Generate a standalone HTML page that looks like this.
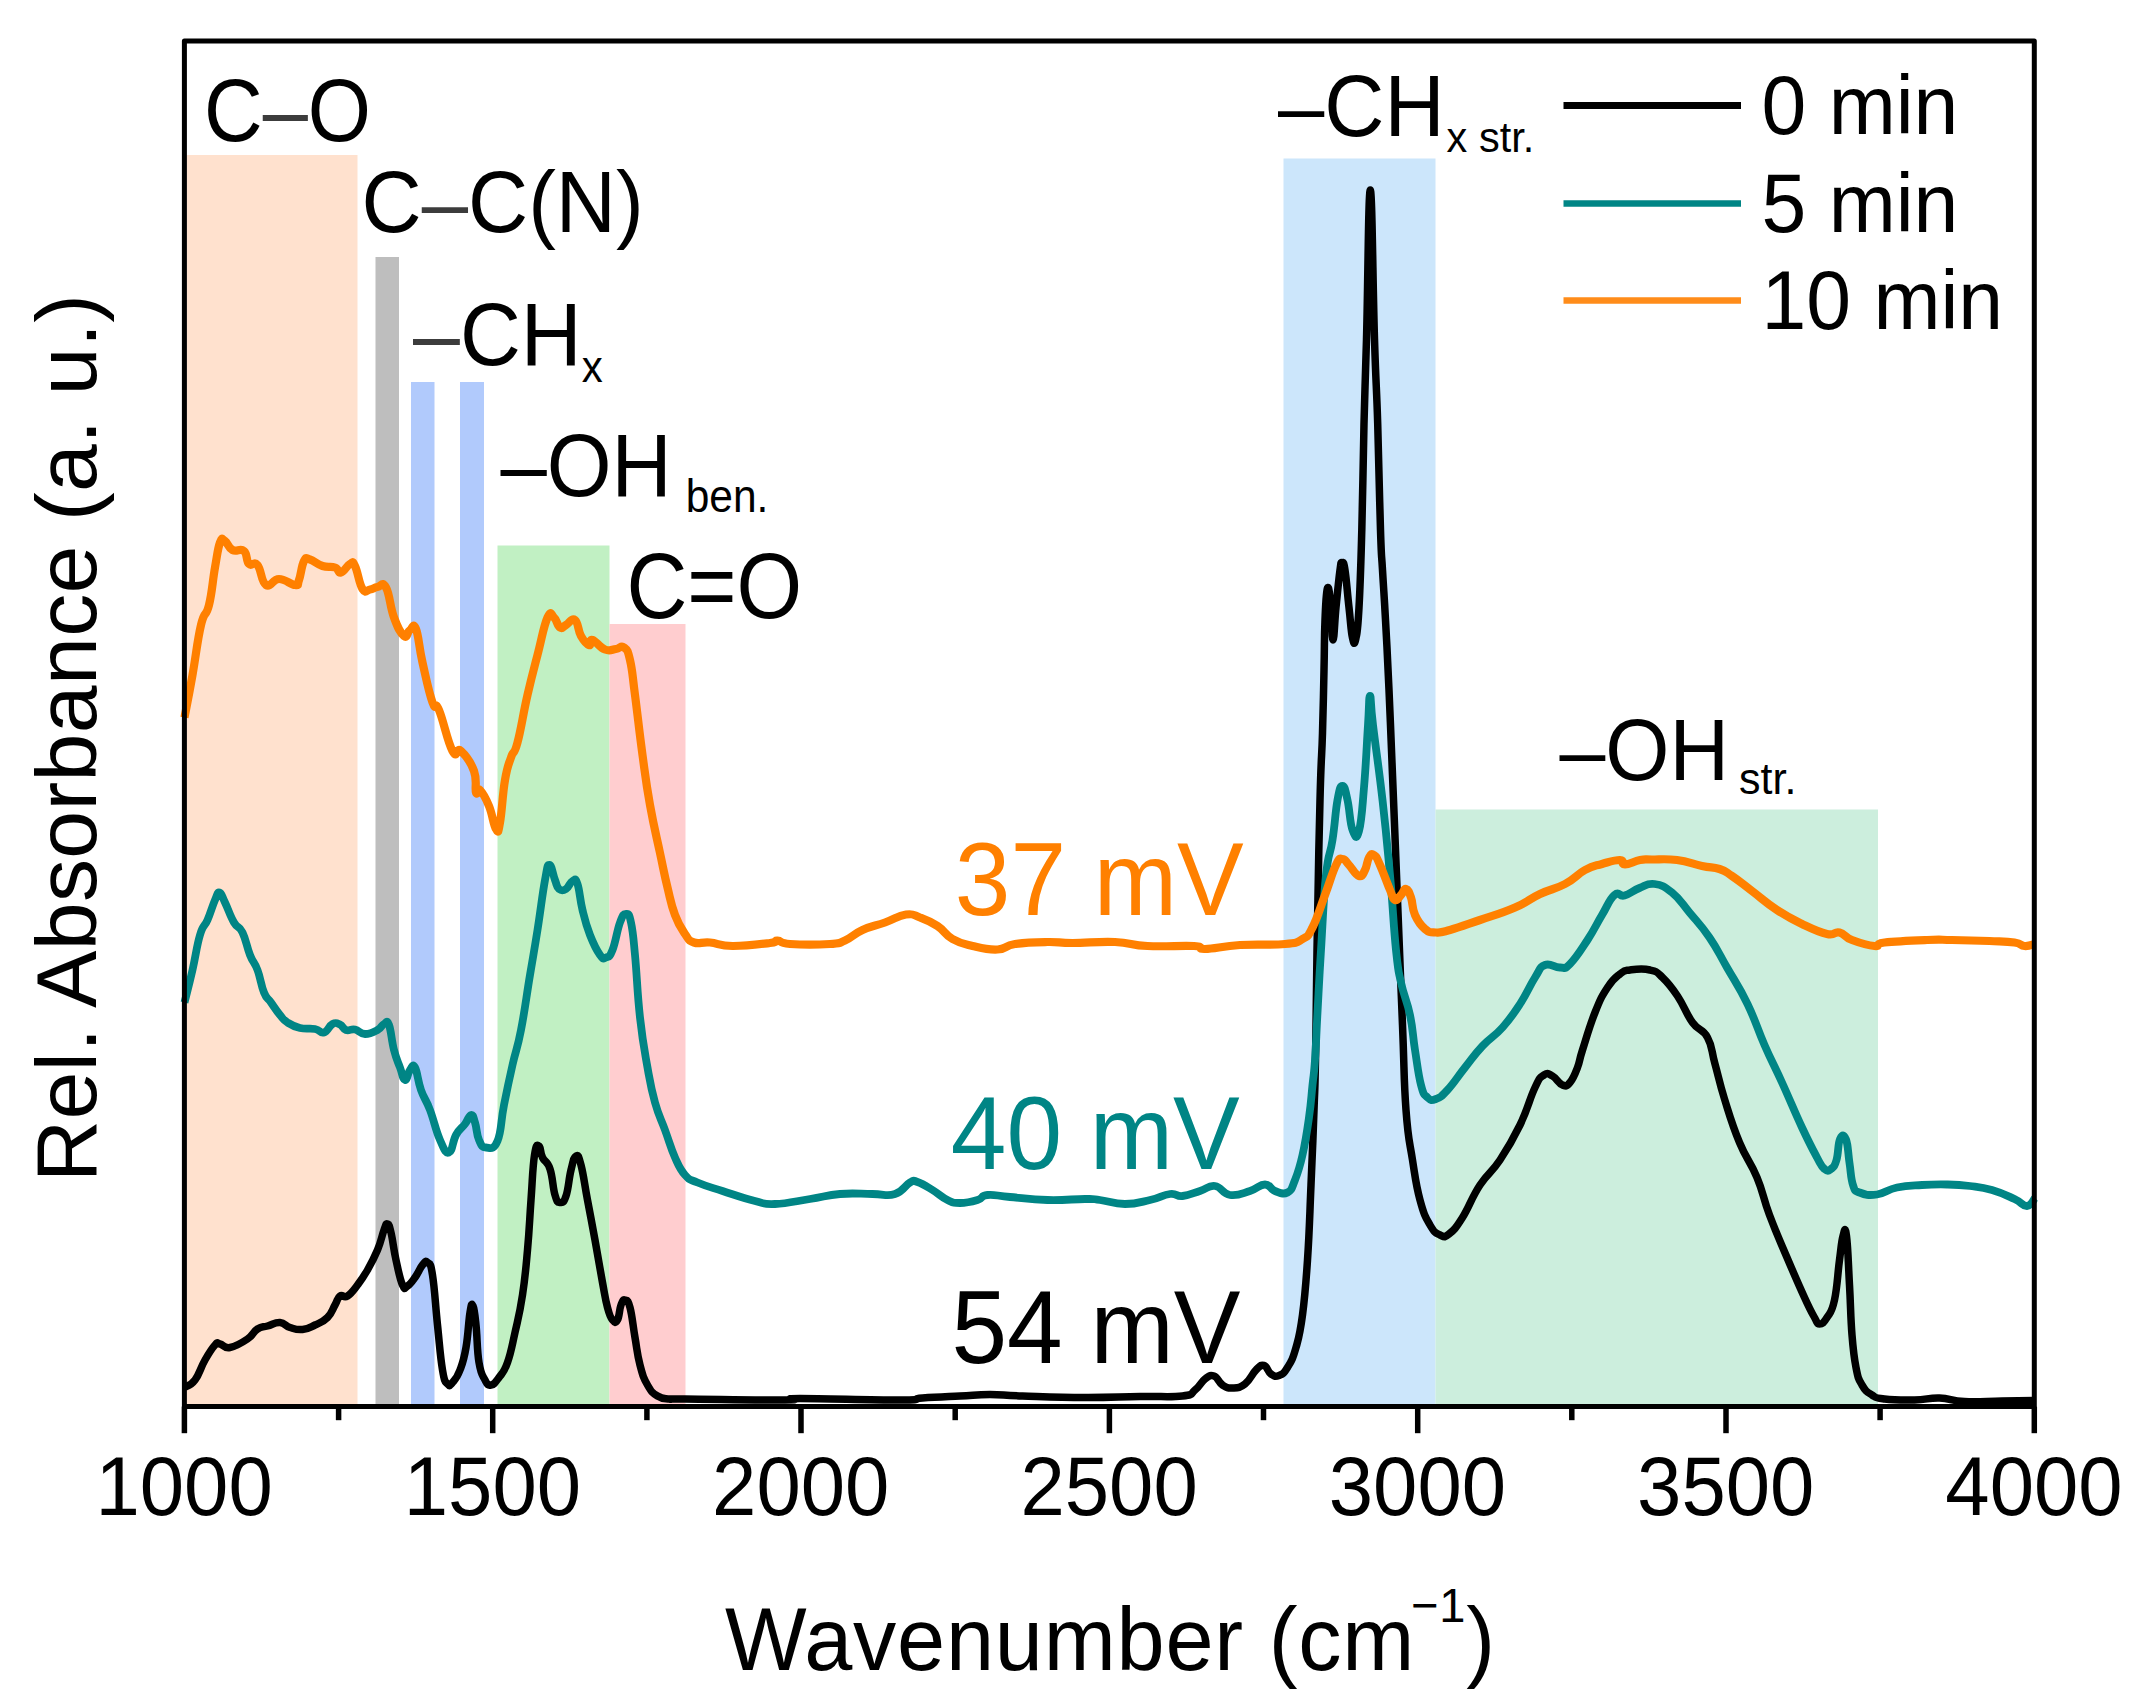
<!DOCTYPE html>
<html lang="en">
<head>
<meta charset="utf-8">
<title>Rel. Absorbance vs Wavenumber</title>
<style>
html,body{margin:0;padding:0;background:#fff;}
body{width:2136px;height:1704px;overflow:hidden;}
svg{display:block;}
text{font-family:"Liberation Sans", sans-serif;fill:#000;}
</style>
</head>
<body>
<svg width="2136" height="1704" viewBox="0 0 2136 1704">
<rect x="0" y="0" width="2136" height="1704" fill="#ffffff"/>

<g id="bands">
<rect x="187" y="155" width="170.5" height="1251.6" fill="#FFE1CE"/>
<rect x="375.5" y="257" width="23.5" height="1149.6" fill="#BEBEBE"/>
<rect x="411" y="382" width="23.5" height="1024.6" fill="#B1CAFC"/>
<rect x="460" y="382" width="24.0" height="1024.6" fill="#B1CAFC"/>
<rect x="497.5" y="545.5" width="112.0" height="861.1" fill="#C1F0C3"/>
<rect x="609.5" y="624" width="76.0" height="782.6" fill="#FFCDCF"/>
<rect x="1283.5" y="158.5" width="152.0" height="1248.1" fill="#CCE6FB"/>
<rect x="1435.5" y="809.5" width="442.5" height="597.1" fill="#CCEEDD"/>
</g>
<g id="curves" fill="none" stroke-linejoin="round" stroke-linecap="butt">
<path stroke="#000000" stroke-width="7.5" d="M184.5,1387.5C186.9,1385.8 190.2,1386.4 195.0,1380.0C199.8,1373.6 200.3,1368.2 205.0,1360.0C209.7,1351.8 211.5,1348.7 215.0,1345.0C218.5,1341.3 216.5,1343.4 220.0,1344.0C223.5,1344.6 223.6,1348.7 230.0,1347.5C236.4,1346.3 241.1,1343.3 247.5,1339.0C253.9,1334.7 252.8,1332.0 257.5,1329.0C262.2,1326.0 262.2,1327.5 267.5,1326.0C272.8,1324.5 274.8,1322.2 280.0,1322.5C285.2,1322.8 284.8,1325.9 290.0,1327.5C295.2,1329.1 296.7,1330.1 302.5,1329.5C308.3,1328.9 309.2,1327.8 315.0,1325.0C320.8,1322.2 322.8,1322.2 327.5,1317.5C332.2,1312.8 332.1,1310.0 335.0,1305.0C337.9,1300.0 337.1,1298.1 340.0,1296.0C342.9,1293.9 343.4,1298.6 347.5,1296.0C351.6,1293.4 352.8,1291.1 357.5,1285.0C362.2,1278.9 362.8,1278.2 367.5,1270.0C372.2,1261.8 373.6,1259.3 377.5,1250.0C381.4,1240.7 381.7,1236.1 384.0,1230.0C386.3,1223.9 385.9,1223.4 387.5,1224.0C389.1,1224.6 389.0,1224.1 391.0,1232.5C393.0,1240.9 393.3,1247.8 396.0,1260.0C398.7,1272.2 399.8,1278.9 402.5,1285.0C405.2,1291.1 404.6,1287.8 407.5,1286.0C410.4,1284.2 411.5,1282.4 415.0,1277.5C418.5,1272.6 419.6,1268.5 422.5,1265.0C425.4,1261.5 425.2,1260.2 427.5,1262.5C429.8,1264.8 430.2,1260.4 432.5,1275.0C434.8,1289.6 435.2,1302.8 437.5,1325.0C439.8,1347.2 440.2,1356.2 442.5,1370.0C444.8,1383.8 445.2,1381.1 447.5,1384.0C449.8,1386.9 449.6,1385.8 452.5,1382.5C455.4,1379.2 456.9,1378.2 460.0,1370.0C463.1,1361.8 463.7,1360.9 466.0,1347.5C468.3,1334.1 468.4,1322.2 470.0,1312.5C471.6,1302.8 471.6,1303.1 473.0,1306.0C474.4,1308.9 474.6,1311.8 476.0,1325.0C477.4,1338.2 476.9,1349.7 479.0,1362.5C481.1,1375.3 482.2,1374.8 485.0,1380.0C487.8,1385.2 487.7,1385.6 491.0,1385.0C494.3,1384.4 495.1,1382.8 499.0,1377.5C502.9,1372.2 503.8,1373.0 507.5,1362.5C511.2,1352.0 511.5,1348.2 515.0,1332.5C518.5,1316.8 519.6,1314.2 522.5,1295.0C525.4,1275.8 525.5,1272.2 527.5,1250.0C529.5,1227.8 529.4,1222.2 531.0,1200.0C532.6,1177.8 532.6,1167.6 534.5,1155.0C536.4,1142.4 537.1,1145.4 539.0,1146.0C540.9,1146.6 539.9,1152.1 542.5,1157.5C545.1,1162.9 547.1,1160.2 550.0,1169.0C552.9,1177.8 552.7,1187.2 555.0,1195.0C557.3,1202.8 557.4,1202.3 560.0,1202.5C562.6,1202.7 563.4,1203.6 566.0,1196.0C568.6,1188.4 568.7,1179.3 571.0,1170.0C573.3,1160.7 573.7,1157.2 576.0,1156.0C578.3,1154.8 578.3,1154.7 581.0,1165.0C583.7,1175.3 584.2,1182.5 587.5,1200.0C590.8,1217.5 591.5,1220.8 595.0,1240.0C598.5,1259.2 599.6,1266.8 602.5,1282.5C605.4,1298.2 605.2,1298.8 607.5,1307.5C609.8,1316.2 610.2,1317.1 612.5,1320.0C614.8,1322.9 615.5,1323.5 617.5,1320.0C619.5,1316.5 619.2,1309.7 621.0,1305.0C622.8,1300.3 622.9,1299.4 625.0,1300.0C627.1,1300.6 627.7,1298.8 630.0,1307.5C632.3,1316.2 632.7,1324.1 635.0,1337.5C637.3,1350.9 637.1,1353.9 640.0,1365.0C642.9,1376.1 643.4,1377.8 647.5,1385.0C651.6,1392.2 652.2,1392.7 657.5,1396.0C662.8,1399.3 663.6,1398.3 670.0,1399.0C676.4,1399.7 658.2,1398.8 685.0,1399.0C711.8,1399.2 758.2,1400.1 785.0,1400.0C811.8,1399.9 773.2,1398.5 800.0,1398.5C826.8,1398.5 871.4,1400.1 900.0,1400.0C928.6,1399.9 908.5,1398.9 922.5,1398.0C936.5,1397.1 944.2,1396.8 960.0,1396.0C975.8,1395.2 975.4,1394.5 990.0,1394.5C1004.6,1394.5 1000.3,1395.3 1022.5,1396.0C1044.7,1396.7 1057.6,1397.4 1085.0,1397.5C1112.4,1397.6 1117.2,1396.8 1140.0,1396.5C1162.8,1396.2 1169.7,1397.5 1182.5,1396.0C1195.3,1394.5 1189.8,1394.0 1195.0,1390.0C1200.2,1386.0 1200.6,1382.3 1205.0,1379.0C1209.4,1375.7 1209.9,1374.6 1214.0,1376.0C1218.1,1377.4 1218.2,1382.2 1222.5,1385.0C1226.8,1387.8 1227.2,1388.2 1232.5,1388.0C1237.8,1387.8 1239.5,1388.2 1245.0,1384.0C1250.5,1379.8 1251.6,1374.3 1256.0,1370.0C1260.4,1365.7 1260.5,1364.6 1264.0,1365.5C1267.5,1366.4 1267.5,1371.7 1271.0,1374.0C1274.5,1376.3 1275.2,1377.0 1279.0,1375.5C1282.8,1374.0 1283.5,1374.0 1287.5,1367.5C1291.5,1361.0 1292.5,1359.8 1296.0,1347.5C1299.5,1335.2 1299.8,1335.4 1302.5,1315.0C1305.2,1294.6 1305.5,1290.3 1307.5,1260.0C1309.5,1229.7 1309.5,1220.0 1311.0,1185.0C1312.5,1150.0 1313.0,1139.2 1314.0,1110.0C1315.0,1080.8 1314.8,1097.3 1315.5,1060.0C1316.2,1022.7 1316.0,1010.7 1317.0,950.0C1318.0,889.3 1318.7,850.6 1320.0,800.0C1321.3,749.4 1321.6,763.3 1322.5,733.0C1323.4,702.7 1323.4,696.4 1324.0,670.0C1324.6,643.6 1324.2,639.1 1325.0,620.0C1325.8,600.9 1326.1,590.9 1327.5,588.0C1328.9,585.1 1329.7,595.4 1331.0,607.5C1332.3,619.6 1331.8,640.0 1333.0,640.0C1334.2,640.0 1334.4,623.8 1336.0,607.5C1337.6,591.2 1338.6,580.4 1340.0,570.0C1341.4,559.6 1340.8,563.0 1342.0,563.0C1343.2,563.0 1343.4,559.6 1345.0,570.0C1346.6,580.4 1347.2,591.6 1349.0,607.5C1350.8,623.4 1350.9,630.9 1352.5,638.0C1354.1,645.1 1354.5,645.1 1356.0,638.0C1357.5,630.9 1357.6,632.7 1359.0,607.5C1360.4,582.3 1360.6,572.9 1361.8,530.0C1363.0,487.1 1362.9,468.1 1364.0,423.5C1365.1,378.9 1365.0,393.5 1366.5,339.0C1368.0,284.5 1368.4,190.0 1370.3,190.0C1372.2,190.0 1372.8,284.5 1374.5,339.0C1376.2,393.5 1376.3,378.9 1377.7,423.5C1379.1,468.1 1379.4,495.8 1380.5,530.0C1381.6,564.2 1381.3,549.0 1382.5,570.0C1383.7,591.0 1384.0,592.0 1385.5,620.0C1387.0,648.0 1387.4,653.8 1389.0,690.0C1390.6,726.2 1390.5,726.0 1392.5,775.0C1394.5,824.0 1395.2,841.7 1397.5,900.0C1399.8,958.3 1400.5,976.0 1402.5,1025.0C1404.5,1074.0 1403.7,1078.5 1406.0,1110.0C1408.3,1141.5 1409.2,1139.0 1412.5,1160.0C1415.8,1181.0 1415.9,1184.8 1420.0,1200.0C1424.1,1215.2 1425.3,1216.8 1430.0,1225.0C1434.7,1233.2 1435.6,1232.9 1440.0,1235.0C1444.4,1237.1 1443.8,1238.1 1449.0,1234.0C1454.2,1229.9 1455.3,1228.9 1462.5,1217.5C1469.7,1206.1 1471.2,1198.4 1480.0,1185.0C1488.8,1171.6 1490.7,1174.0 1500.0,1160.0C1509.3,1146.0 1511.8,1141.9 1520.0,1125.0C1528.2,1108.1 1529.4,1099.2 1535.0,1087.5C1540.6,1075.8 1539.9,1077.7 1544.0,1075.0C1548.1,1072.3 1548.2,1073.7 1552.5,1076.0C1556.8,1078.3 1558.4,1083.5 1562.5,1085.0C1566.6,1086.5 1566.5,1086.6 1570.0,1082.5C1573.5,1078.4 1574.6,1075.1 1577.5,1067.5C1580.4,1059.9 1578.4,1062.8 1582.5,1050.0C1586.6,1037.2 1589.2,1027.1 1595.0,1012.5C1600.8,997.9 1601.7,996.5 1607.5,987.5C1613.3,978.5 1614.8,978.1 1620.0,974.0C1625.2,969.9 1623.0,970.9 1630.0,970.0C1637.0,969.1 1642.4,968.2 1650.0,970.0C1657.6,971.8 1656.1,971.4 1662.5,977.5C1668.9,983.6 1670.5,985.5 1677.5,996.0C1684.5,1006.5 1685.5,1012.8 1692.5,1022.5C1699.5,1032.2 1702.2,1027.8 1707.5,1037.5C1712.8,1047.2 1711.0,1049.7 1715.0,1064.0C1719.0,1078.3 1718.8,1080.7 1724.5,1099.0C1730.2,1117.3 1731.9,1124.2 1739.5,1142.5C1747.1,1160.8 1750.0,1160.6 1757.0,1177.5C1764.0,1194.4 1762.5,1196.3 1769.5,1215.0C1776.5,1233.7 1778.8,1238.2 1787.0,1257.5C1795.2,1276.8 1798.1,1283.5 1804.5,1297.5C1810.9,1311.5 1811.0,1311.3 1814.5,1317.5C1818.0,1323.7 1816.6,1324.0 1819.5,1324.0C1822.4,1324.0 1823.5,1323.1 1827.0,1317.5C1830.5,1311.9 1831.6,1313.4 1834.5,1300.0C1837.4,1286.6 1837.5,1274.9 1839.5,1260.0C1841.5,1245.1 1841.4,1241.6 1843.0,1236.0C1844.6,1230.4 1845.0,1224.6 1846.5,1236.0C1848.0,1247.4 1848.2,1261.9 1849.5,1285.0C1850.8,1308.1 1850.5,1315.8 1852.0,1335.0C1853.5,1354.2 1853.7,1355.8 1856.0,1367.5C1858.3,1379.2 1858.3,1378.6 1862.0,1385.0C1865.7,1391.4 1866.8,1391.7 1872.0,1395.0C1877.2,1398.3 1874.6,1397.8 1884.5,1399.0C1894.4,1400.2 1901.7,1400.2 1914.5,1400.0C1927.3,1399.8 1927.8,1397.7 1939.5,1398.0C1951.2,1398.3 1949.9,1400.8 1964.5,1401.5C1979.1,1402.2 1985.5,1401.2 2002.0,1401.0C2018.5,1400.8 2027.3,1400.6 2035.0,1400.5"/>
<path stroke="#008585" stroke-width="7.8" d="M184.5,1002.5C186.4,994.9 188.9,985.8 192.5,970.0C196.1,954.2 196.5,946.7 200.0,935.0C203.5,923.3 204.0,928.2 207.5,920.0C211.0,911.8 212.2,906.4 215.0,900.0C217.8,893.6 217.2,891.9 219.5,892.5C221.8,893.1 221.6,895.5 225.0,902.5C228.4,909.5 229.9,915.5 234.0,922.5C238.1,929.5 238.8,924.9 242.5,932.5C246.2,940.1 246.5,946.2 250.0,955.0C253.5,963.8 254.2,961.2 257.5,970.0C260.8,978.8 260.9,984.9 264.0,992.5C267.1,1000.1 267.3,997.2 271.0,1002.5C274.7,1007.8 276.1,1010.3 280.0,1015.0C283.9,1019.7 282.8,1019.5 287.5,1022.5C292.2,1025.5 293.6,1026.5 300.0,1028.0C306.4,1029.5 309.4,1028.0 315.0,1029.0C320.6,1030.0 319.9,1033.7 324.0,1032.5C328.1,1031.3 328.8,1025.9 332.5,1024.0C336.2,1022.1 336.9,1023.1 340.0,1024.5C343.1,1025.9 342.5,1028.8 346.0,1030.0C349.5,1031.2 350.6,1028.6 355.0,1029.5C359.4,1030.4 359.8,1033.9 365.0,1034.0C370.2,1034.1 373.1,1032.3 377.5,1030.0C381.9,1027.7 381.3,1025.2 384.0,1024.0C386.7,1022.8 386.7,1018.9 389.0,1025.0C391.3,1031.1 391.4,1040.1 394.0,1050.0C396.6,1059.9 397.4,1060.5 400.0,1067.5C402.6,1074.5 402.7,1079.4 405.0,1080.0C407.3,1080.6 407.7,1072.9 410.0,1070.0C412.3,1067.1 412.4,1062.8 415.0,1067.5C417.6,1072.2 417.5,1080.1 421.0,1090.0C424.5,1099.9 425.6,1098.3 430.0,1110.0C434.4,1121.7 435.6,1130.1 440.0,1140.0C444.4,1149.9 445.3,1153.7 449.0,1152.5C452.7,1151.3 452.3,1141.7 456.0,1135.0C459.7,1128.3 461.5,1128.7 465.0,1124.0C468.5,1119.3 468.7,1115.3 471.0,1115.0C473.3,1114.7 473.1,1116.7 475.0,1122.5C476.9,1128.3 476.4,1134.2 479.0,1140.0C481.6,1145.8 481.7,1147.3 486.0,1147.5C490.3,1147.7 493.3,1150.9 497.5,1141.0C501.7,1131.1 500.5,1122.7 504.0,1105.0C507.5,1087.3 508.5,1082.5 512.5,1065.0C516.5,1047.5 516.9,1051.0 521.0,1030.0C525.1,1009.0 526.1,998.3 530.0,975.0C533.9,951.7 534.0,952.2 537.5,930.0C541.0,907.8 542.2,895.2 545.0,880.0C547.8,864.8 547.2,865.0 549.5,865.0C551.8,865.0 552.8,874.4 555.0,880.0C557.2,885.6 556.4,886.9 559.0,889.0C561.6,891.1 562.9,890.9 566.0,889.0C569.1,887.1 569.8,882.2 572.5,881.0C575.2,879.8 575.2,877.2 577.5,884.0C579.8,890.8 579.6,898.1 582.5,910.0C585.4,921.9 585.9,924.5 590.0,935.0C594.1,945.5 596.3,949.8 600.0,955.0C603.7,960.2 603.1,958.7 606.0,957.5C608.9,956.3 609.2,958.2 612.5,950.0C615.8,941.8 616.9,930.9 620.0,922.5C623.1,914.1 623.4,914.0 626.0,914.0C628.6,914.0 628.9,912.9 631.0,922.5C633.1,932.1 632.9,932.8 635.0,955.0C637.1,977.2 637.1,991.2 640.0,1017.5C642.9,1043.8 644.0,1047.7 647.5,1067.5C651.0,1087.3 650.9,1087.9 655.0,1102.5C659.1,1117.1 660.3,1117.2 665.0,1130.0C669.7,1142.8 670.3,1147.0 675.0,1157.5C679.7,1168.0 679.8,1169.2 685.0,1175.0C690.2,1180.8 688.8,1178.8 697.5,1182.5C706.2,1186.2 709.1,1186.7 722.5,1191.0C735.9,1195.3 742.8,1198.0 755.0,1201.0C767.2,1204.0 762.2,1204.5 775.0,1204.0C787.8,1203.5 794.8,1201.3 810.0,1199.0C825.2,1196.7 825.4,1195.2 840.0,1194.0C854.6,1192.8 859.7,1194.0 872.5,1194.0C885.3,1194.0 886.2,1196.7 895.0,1194.0C903.8,1191.3 904.8,1185.3 910.0,1182.5C915.2,1179.7 912.2,1180.2 917.5,1182.0C922.8,1183.8 925.5,1185.8 932.5,1190.0C939.5,1194.2 941.1,1197.0 947.5,1200.0C953.9,1203.0 953.0,1203.0 960.0,1203.0C967.0,1203.0 971.1,1201.9 977.5,1200.0C983.9,1198.1 979.9,1195.7 987.5,1195.0C995.1,1194.3 996.0,1195.8 1010.0,1197.0C1024.0,1198.2 1030.0,1199.5 1047.5,1200.0C1065.0,1200.5 1072.8,1199.0 1085.0,1199.0C1097.2,1199.0 1090.7,1198.8 1100.0,1200.0C1109.3,1201.2 1113.3,1204.0 1125.0,1204.0C1136.7,1204.0 1139.5,1202.3 1150.0,1200.0C1160.5,1197.7 1162.4,1194.9 1170.0,1194.0C1177.6,1193.1 1175.5,1196.7 1182.5,1196.0C1189.5,1195.3 1192.4,1193.3 1200.0,1191.0C1207.6,1188.7 1208.0,1185.1 1215.0,1186.0C1222.0,1186.9 1221.8,1193.8 1230.0,1195.0C1238.2,1196.2 1241.8,1193.5 1250.0,1191.0C1258.2,1188.5 1259.2,1184.5 1265.0,1184.5C1270.8,1184.5 1269.8,1189.1 1275.0,1191.0C1280.2,1192.9 1282.8,1195.1 1287.5,1192.5C1292.2,1189.9 1291.5,1188.8 1295.0,1180.0C1298.5,1171.2 1299.2,1169.6 1302.5,1155.0C1305.8,1140.4 1306.7,1133.8 1309.0,1117.5C1311.3,1101.2 1311.1,1098.4 1312.5,1085.0C1313.9,1071.6 1313.8,1076.9 1315.0,1060.0C1316.2,1043.1 1316.1,1038.2 1317.5,1012.5C1318.9,986.8 1319.0,982.1 1321.0,950.0C1323.0,917.9 1323.3,900.7 1326.0,875.0C1328.7,849.3 1329.8,857.5 1332.5,840.0C1335.2,822.5 1335.2,812.6 1337.5,800.0C1339.8,787.4 1340.2,786.0 1342.5,786.0C1344.8,786.0 1345.2,789.7 1347.5,800.0C1349.8,810.3 1349.8,822.8 1352.5,830.0C1355.2,837.2 1356.3,840.9 1359.0,831.0C1361.7,821.1 1361.9,812.2 1364.0,787.5C1366.1,762.8 1366.6,746.4 1368.0,725.0C1369.4,703.6 1368.8,696.0 1370.0,696.0C1371.2,696.0 1370.1,700.7 1373.0,725.0C1375.9,749.3 1378.5,765.0 1382.5,800.0C1386.5,835.0 1386.8,840.0 1390.0,875.0C1393.2,910.0 1393.4,924.9 1396.0,950.0C1398.6,975.1 1397.7,967.3 1401.0,982.5C1404.3,997.7 1406.7,999.2 1410.0,1015.0C1413.3,1030.8 1412.4,1033.7 1415.0,1050.0C1417.6,1066.3 1418.1,1073.9 1421.0,1085.0C1423.9,1096.1 1424.0,1094.2 1427.5,1097.5C1431.0,1100.8 1431.3,1100.8 1436.0,1099.0C1440.7,1097.2 1440.7,1097.3 1447.5,1090.0C1454.3,1082.7 1456.8,1077.8 1465.0,1067.5C1473.2,1057.2 1473.8,1055.3 1482.5,1046.0C1491.2,1036.7 1493.8,1037.3 1502.5,1027.5C1511.2,1017.7 1512.4,1015.7 1520.0,1004.0C1527.6,992.3 1529.2,986.6 1535.0,977.5C1540.8,968.4 1539.2,967.3 1545.0,965.0C1550.8,962.7 1554.2,967.7 1560.0,967.5C1565.8,967.3 1563.6,970.4 1570.0,964.0C1576.4,957.6 1580.0,951.4 1587.5,940.0C1595.0,928.6 1595.7,925.5 1602.0,915.0C1608.3,904.5 1609.2,899.5 1614.5,895.0C1619.8,890.5 1618.7,897.1 1624.5,895.5C1630.3,893.9 1632.5,890.7 1639.5,888.0C1646.5,885.3 1646.9,883.0 1654.5,884.0C1662.1,885.0 1663.8,885.9 1672.0,892.5C1680.2,899.1 1680.8,902.0 1689.5,912.5C1698.2,923.0 1700.8,924.7 1709.5,937.5C1718.2,950.3 1718.1,952.0 1727.0,967.5C1735.9,983.0 1738.8,985.9 1747.5,1004.0C1756.2,1022.1 1756.5,1026.7 1764.5,1045.0C1772.5,1063.3 1773.2,1063.2 1782.0,1082.5C1790.8,1101.8 1793.8,1110.0 1802.0,1127.5C1810.2,1145.0 1811.8,1147.8 1817.0,1157.5C1822.2,1167.2 1821.2,1166.3 1824.5,1169.0C1827.8,1171.7 1828.2,1171.1 1831.0,1169.0C1833.8,1166.9 1834.4,1167.0 1836.5,1160.0C1838.6,1153.0 1837.8,1143.8 1840.0,1139.0C1842.2,1134.2 1843.8,1133.9 1846.0,1139.5C1848.2,1145.1 1847.9,1152.4 1849.5,1163.0C1851.1,1173.6 1850.7,1178.1 1853.0,1185.0C1855.3,1191.9 1853.9,1190.3 1859.5,1192.5C1865.1,1194.7 1868.2,1195.7 1877.0,1194.5C1885.8,1193.3 1886.5,1189.7 1897.0,1187.5C1907.5,1185.3 1910.3,1185.7 1922.0,1185.0C1933.7,1184.3 1935.8,1184.3 1947.0,1184.5C1958.2,1184.7 1959.5,1184.7 1970.0,1186.0C1980.5,1187.3 1981.6,1187.0 1992.0,1190.0C2002.4,1193.0 2006.3,1195.3 2014.5,1199.0C2022.7,1202.7 2022.2,1206.2 2027.0,1206.0C2031.8,1205.8 2033.1,1199.9 2035.0,1198.0"/>
<path stroke="#FF8000" stroke-width="8.2" d="M184.5,717.5C186.4,707.6 188.7,696.6 192.5,675.0C196.3,653.4 197.2,641.3 201.0,625.0C204.8,608.7 205.7,618.4 209.0,605.0C212.3,591.6 212.4,582.1 215.0,567.5C217.6,552.9 217.7,548.7 220.0,542.5C222.3,536.3 222.1,539.2 225.0,541.0C227.9,542.8 228.1,547.7 232.5,550.0C236.9,552.3 240.2,547.7 244.0,551.0C247.8,554.3 245.8,560.7 249.0,564.0C252.2,567.3 253.5,560.1 257.5,565.0C261.5,569.9 261.0,581.7 266.0,585.0C271.0,588.3 272.2,579.0 279.0,579.0C285.8,579.0 290.3,584.8 295.0,585.0C299.7,585.2 296.9,585.6 299.0,580.0C301.1,574.4 301.4,565.8 304.0,561.0C306.6,556.2 305.7,558.3 310.0,559.5C314.3,560.7 316.7,564.1 322.5,566.0C328.3,567.9 330.7,566.0 335.0,567.5C339.3,569.0 337.5,573.3 341.0,572.5C344.5,571.7 346.7,565.5 350.0,564.0C353.3,562.5 352.1,560.2 355.0,566.0C357.9,571.8 359.0,583.5 362.5,589.0C366.0,594.5 366.5,590.0 370.0,589.5C373.5,589.0 373.8,587.5 377.5,587.0C381.2,586.5 382.1,580.4 386.0,587.5C389.9,594.6 389.8,606.2 394.0,617.5C398.2,628.8 400.3,633.1 404.0,636.0C407.7,638.9 407.2,631.6 410.0,630.0C412.8,628.4 413.1,621.4 416.0,629.0C418.9,636.6 418.6,645.4 422.5,662.5C426.4,679.6 428.6,691.4 432.5,702.5C436.4,713.6 434.3,698.7 439.0,710.0C443.7,721.3 447.4,741.4 452.5,751.0C457.6,760.6 456.0,746.3 461.0,751.0C466.0,755.7 470.5,761.3 474.0,771.0C477.5,780.7 474.6,788.1 476.0,792.5C477.4,796.9 477.0,786.9 480.0,790.0C483.0,793.1 485.3,796.9 489.0,806.0C492.7,815.1 493.4,825.1 496.0,829.0C498.6,832.9 497.9,833.9 500.0,822.5C502.1,811.1 502.4,795.2 505.0,780.0C507.6,764.8 508.1,766.2 511.0,757.5C513.9,748.8 513.6,757.1 517.5,742.5C521.4,727.9 522.8,715.4 527.5,695.0C532.2,674.6 532.8,673.1 537.5,655.0C542.2,636.9 543.6,626.2 547.5,617.5C551.4,608.8 551.1,615.2 554.0,617.5C556.9,619.8 557.2,625.8 560.0,627.5C562.8,629.2 562.5,626.8 566.0,625.0C569.5,623.2 571.5,617.4 575.0,620.0C578.5,622.6 577.7,630.2 581.0,636.0C584.3,641.8 586.3,644.1 589.0,645.0C591.7,645.9 588.8,639.0 592.5,640.0C596.2,641.0 599.5,647.4 605.0,649.5C610.5,651.6 611.6,649.5 616.0,649.0C620.4,648.5 620.7,644.9 624.0,647.5C627.3,650.1 627.4,648.9 630.0,660.0C632.6,671.1 632.1,672.8 635.0,695.0C637.9,717.2 639.0,729.3 642.5,755.0C646.0,780.7 645.9,782.1 650.0,805.0C654.1,827.9 655.9,833.8 660.0,853.0C664.1,872.2 664.0,873.0 667.5,887.5C671.0,902.0 670.9,904.1 675.0,915.0C679.1,925.9 680.6,927.6 685.0,934.0C689.4,940.4 688.2,940.5 694.0,942.5C699.8,944.5 701.0,941.7 710.0,942.5C719.0,943.3 718.5,945.9 732.5,946.0C746.5,946.1 759.5,944.3 770.0,943.0C780.5,941.7 772.8,940.3 777.5,940.5C782.2,940.7 777.8,943.2 790.0,944.0C802.2,944.8 817.2,944.8 830.0,944.0C842.8,943.2 837.4,943.8 845.0,940.5C852.6,937.2 853.2,934.2 862.5,930.0C871.8,925.8 874.9,926.1 885.0,922.5C895.1,918.9 897.8,915.7 906.0,914.5C914.2,913.3 912.6,914.8 920.0,917.5C927.4,920.2 929.9,921.0 937.5,926.0C945.1,931.0 944.3,934.3 952.5,939.0C960.7,943.7 962.0,943.5 972.5,946.0C983.0,948.5 987.6,950.0 997.5,949.5C1007.4,949.0 1003.3,945.8 1015.0,944.0C1026.7,942.2 1034.1,942.2 1047.5,942.0C1060.9,941.8 1056.8,943.0 1072.5,943.0C1088.2,943.0 1097.5,941.3 1115.0,942.0C1132.5,942.7 1129.1,945.1 1147.5,946.0C1165.9,946.9 1180.6,945.3 1194.0,946.0C1207.4,946.7 1194.3,949.2 1205.0,949.0C1215.7,948.8 1221.3,946.2 1240.0,945.0C1258.7,943.8 1270.4,945.4 1285.0,944.0C1299.6,942.6 1296.1,942.9 1302.5,939.0C1308.9,935.1 1307.2,937.8 1312.5,927.5C1317.8,917.2 1319.5,909.6 1325.0,895.0C1330.5,880.4 1331.9,873.4 1336.0,865.0C1340.1,856.6 1339.5,859.0 1342.5,859.0C1345.5,859.0 1345.2,861.0 1349.0,865.0C1352.8,869.0 1355.3,874.8 1359.0,876.0C1362.7,877.2 1362.7,874.3 1365.0,870.0C1367.3,865.7 1366.9,861.0 1369.0,857.5C1371.1,854.0 1371.4,853.2 1374.0,855.0C1376.6,856.8 1376.3,856.8 1380.0,865.0C1383.7,873.2 1386.5,881.8 1390.0,890.0C1393.5,898.2 1392.4,898.8 1395.0,900.0C1397.6,901.2 1398.4,897.6 1401.0,895.0C1403.6,892.4 1403.7,888.4 1406.0,889.0C1408.3,889.6 1408.9,891.4 1411.0,897.5C1413.1,903.6 1411.7,907.6 1415.0,915.0C1418.3,922.4 1420.1,924.9 1425.0,929.0C1429.9,933.1 1430.2,932.3 1436.0,932.5C1441.8,932.7 1439.7,932.9 1450.0,930.0C1460.3,927.1 1464.8,925.2 1480.0,920.0C1495.2,914.8 1501.0,913.6 1515.0,907.5C1529.0,901.4 1528.3,899.5 1540.0,894.0C1551.7,888.5 1554.5,889.6 1565.0,884.0C1575.5,878.4 1576.4,874.7 1585.0,870.0C1593.6,865.3 1593.8,866.3 1602.0,864.0C1610.2,861.7 1614.6,859.9 1620.0,860.0C1625.4,860.1 1620.3,864.5 1625.0,864.5C1629.7,864.5 1633.7,861.2 1640.0,860.0C1646.3,858.8 1643.4,859.5 1652.0,859.5C1660.6,859.5 1665.3,858.5 1677.0,860.0C1688.7,861.5 1692.1,863.9 1702.0,866.0C1711.9,868.1 1712.5,866.7 1719.5,869.0C1726.5,871.3 1724.4,870.9 1732.0,876.0C1739.6,881.1 1741.5,883.1 1752.0,891.0C1762.5,898.9 1765.3,902.3 1777.0,910.0C1788.7,917.7 1790.3,918.4 1802.0,924.0C1813.7,929.6 1818.2,932.0 1827.0,934.0C1835.8,936.0 1833.7,931.1 1839.5,932.5C1845.3,933.9 1843.8,936.9 1852.0,940.0C1860.2,943.1 1866.9,945.4 1874.5,946.0C1882.1,946.6 1872.2,943.9 1884.5,942.5C1896.8,941.1 1911.2,940.6 1927.0,940.0C1942.8,939.4 1937.4,939.8 1952.0,940.0C1966.6,940.2 1974.9,940.4 1989.5,941.0C2004.1,941.6 2006.3,941.3 2014.5,942.5C2022.7,943.7 2019.7,945.6 2024.5,946.0C2029.3,946.4 2032.5,944.5 2035.0,944.0"/>
</g>
<rect x="184.4" y="41.0" width="1849.9" height="1365.6" fill="none" stroke="#000" stroke-width="5" stroke-linejoin="round"/>
<g id="ticks" stroke="#000" stroke-width="5.5">
<line x1="184.4" y1="1406.6" x2="184.4" y2="1433.2"/>
<line x1="338.6" y1="1406.6" x2="338.6" y2="1420.2"/>
<line x1="492.7" y1="1406.6" x2="492.7" y2="1433.2"/>
<line x1="646.9" y1="1406.6" x2="646.9" y2="1420.2"/>
<line x1="801.0" y1="1406.6" x2="801.0" y2="1433.2"/>
<line x1="955.2" y1="1406.6" x2="955.2" y2="1420.2"/>
<line x1="1109.4" y1="1406.6" x2="1109.4" y2="1433.2"/>
<line x1="1263.5" y1="1406.6" x2="1263.5" y2="1420.2"/>
<line x1="1417.7" y1="1406.6" x2="1417.7" y2="1433.2"/>
<line x1="1571.8" y1="1406.6" x2="1571.8" y2="1420.2"/>
<line x1="1726.0" y1="1406.6" x2="1726.0" y2="1433.2"/>
<line x1="1880.1" y1="1406.6" x2="1880.1" y2="1420.2"/>
<line x1="2034.3" y1="1406.6" x2="2034.3" y2="1433.2"/>
</g>
<g id="ticklabels">
<text transform="translate(184.1,1515.3) scale(1,1.045)" font-size="79.7" text-anchor="middle">1000</text>
<text transform="translate(492.4,1515.3) scale(1,1.045)" font-size="79.7" text-anchor="middle">1500</text>
<text transform="translate(800.7,1515.3) scale(1,1.045)" font-size="79.7" text-anchor="middle">2000</text>
<text transform="translate(1109.1,1515.3) scale(1,1.045)" font-size="79.7" text-anchor="middle">2500</text>
<text transform="translate(1417.4,1515.3) scale(1,1.045)" font-size="79.7" text-anchor="middle">3000</text>
<text transform="translate(1725.7,1515.3) scale(1,1.045)" font-size="79.7" text-anchor="middle">3500</text>
<text transform="translate(2034.0,1515.3) scale(1,1.045)" font-size="79.7" text-anchor="middle">4000</text>
</g>
<text transform="translate(725,1670) scale(1,1.03)" font-size="86.5" textLength="770" lengthAdjust="spacing">Wavenumber (cm<tspan font-size="47" dx="-4" dy="-47">−1</tspan><tspan dy="47">)</tspan></text>
<text transform="translate(96,1182) rotate(-90)" font-size="86" textLength="888" lengthAdjust="spacing">Rel. Absorbance (a. u.)</text>
<g id="annotations">
<text transform="translate(204,141.2) scale(1,1.09)" font-size="81.2">C<tspan fill="#3c3c3c">–</tspan>O</text>
<text transform="translate(361.5,231.5) scale(1,1.055)" font-size="83.3">C<tspan fill="#3c3c3c">–</tspan>C(N)</text>
<text transform="translate(413,365) scale(1,1.05)" font-size="84.3"><tspan fill="#3c3c3c">–</tspan>CH<tspan font-size="42" dx="0" dy="16">x</tspan></text>
<text transform="translate(500.5,495.5) scale(1,1.07)" font-size="83.3">–OH<tspan font-size="42.5" dx="14" dy="15.5">ben.</tspan></text>
<text transform="translate(626.5,617.8) scale(1,1.095)" font-size="84.3">C=O</text>
<text transform="translate(1278,136) scale(1,1.045)" font-size="83.3">–CH<tspan font-size="41.5" dx="2" dy="15.5">x str.</tspan></text>
<text transform="translate(1559.5,780) scale(1,1.045)" font-size="82.5">–OH<tspan font-size="43" dx="10" dy="13">str.</tspan></text>
</g>
<g id="legend">
<line x1="1563.5" y1="105.5" x2="1741" y2="105.5" stroke="#000" stroke-width="7.2"/>
<line x1="1563.5" y1="203.5" x2="1741" y2="203.5" stroke="#008585" stroke-width="6.5"/>
<line x1="1563.5" y1="300.5" x2="1741" y2="300.5" stroke="#FF8C1A" stroke-width="6.5"/>
<text transform="translate(1761.5,133.5) scale(1,1.045)" font-size="80.5">0 min</text>
<text transform="translate(1761.5,231.5) scale(1,1.045)" font-size="80.5">5 min</text>
<text transform="translate(1761.5,328.5) scale(1,1.045)" font-size="80.5">10 min</text>
</g>
<g id="mv">
<text transform="translate(954.8,914.5) scale(1,1.035)" font-size="100" style="fill:#FF8000">37 mV</text>
<text transform="translate(950.8,1169) scale(1,1.035)" font-size="100" style="fill:#008585">40 mV</text>
<text transform="translate(951.5,1363) scale(1,1.035)" font-size="100" style="fill:#000">54 mV</text>
</g>
</svg>
</body>
</html>
